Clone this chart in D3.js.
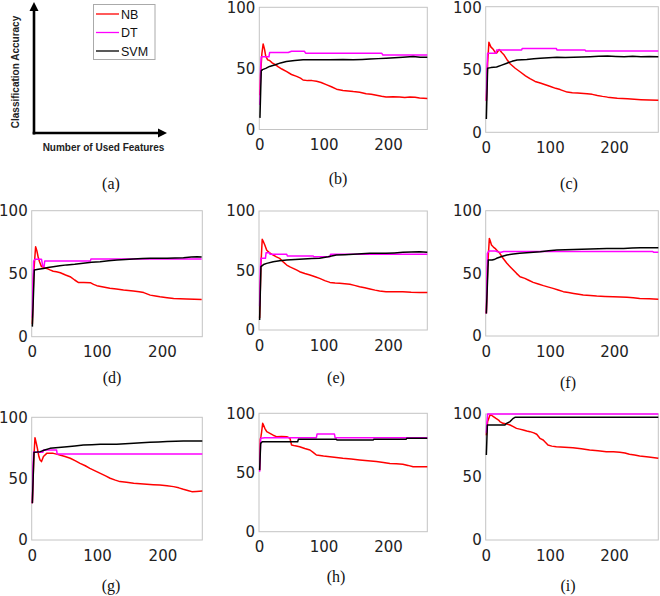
<!DOCTYPE html>
<html><head><meta charset="utf-8">
<script src="https://cdn.jsdelivr.net/npm/d3@7"></script>
<style>body{margin:0;background:#fff}svg{display:block}</style>
</head><body>
<svg id="chart" width="660" height="596"></svg>
<script>
// ---------- DATA ----------
const seriesNames = ["NB", "DT", "SVM"];
const seriesColors = ["#ff0000", "#ff00ff", "#000000"];
const panelLabels = ["(a)", "(b)", "(c)", "(d)", "(e)", "(f)", "(g)", "(h)", "(i)"];
const xTicks = [0, 100, 200];
const yTicks = [0, 50, 100];
const axisLabelX = "Number of Used Features";
const axisLabelY = "Classification Accuracy";

const b_NB = [[1,28],[2,45],[4,62],[6,70],[8,66],[10,60],[13,57],[16,56.5],[20,54.5],[25,53],[29,51.5],[35,49.5],[42,47.5],[50,45],[58,43.5],[64,42],[68,40.5],[75,40],[82,40],[89,39.4],[96,38.5],[104,36.7],[112,35],[120,33],[130,32],[138,31.5],[146,31],[156,30.5],[166,29.3],[174,28.8],[182,28],[190,27.2],[197,26.6],[208,26.8],[218,26.6],[226,26.2],[234,26.6],[242,26.4],[249,25.8],[261,25.3]];
const b_DT = [[1,20],[2,50],[3,59.5],[15,59.5],[16,63],[45,63],[50,64],[70,64],[72,62.5],[190,62.5],[192,61],[261,61]];
const b_SVM = [[1,9.5],[3,48],[5,49],[10,50],[16,51.6],[25,53],[33,54.5],[42,55.7],[55,56.5],[68,57],[80,57],[94,57],[110,57],[130,57.3],[146,57],[160,57.3],[172,57.6],[185,58],[197,58.4],[210,58.8],[223,59.2],[239,59.8],[250,59.2],[261,59.2]];

const c_NB = [[1,25],[3,55],[5,71.7],[8,68],[12,65.9],[15,63.5],[17,63],[21,65.9],[25,63.5],[28,62],[33,58],[38,54.6],[46,51],[54,48],[62,45],[69,42.7],[77,40.5],[85,39.2],[93,37.8],[101,36.5],[109,35],[116,34],[127,32],[135,31.5],[143,31.2],[158,30.7],[166,30.2],[174,29.3],[182,28.6],[190,28],[205,27.2],[221,26.7],[242,26],[255,25.7],[269,25.5]];
const c_DT = [[1,25],[2,50],[3,62.9],[16,62.9],[17,65.5],[56,65.5],[57,66.8],[110,66.8],[111,65.5],[155,65.5],[156,64.7],[269,64.7]];
const c_SVM = [[1,10.6],[3,51],[8,51.5],[17,52],[25,53.5],[33,55],[41,56.5],[49,57.5],[64,58],[75,58.5],[85,59],[98,59.3],[111,59.7],[124,59.5],[137,59.7],[150,60],[163,60.2],[176,60.5],[190,60.7],[203,60.4],[216,60.2],[229,60.5],[242,60.2],[255,60.3],[269,60.2]];

const d_NB = [[1,10],[3,50],[6,71.4],[8,68],[10,63],[12,59.5],[15,55.6],[19,54.8],[23,54.2],[28,53],[33,52],[38,51.5],[44,50.8],[52,49],[59,47.6],[66,45],[72,43],[80,43],[90,42.9],[95,41.5],[100,40.5],[110,39.5],[120,38.4],[130,37.8],[141,37],[156,36.2],[165,35.7],[172,35],[177,34],[182,33],[190,32.3],[197,31.7],[208,31],[218,30.4],[238,29.9],[250,29.7],[261,29.6]];
const d_DT = [[1,15],[2,45],[3,60],[5,61.5],[15,61.5],[17,56],[19,55.5],[20,60],[90,60],[91,61.7],[261,61.7]];
const d_SVM = [[1,8],[4,53],[10,53.5],[18,54.2],[25,55],[33,55.6],[43,56.3],[54,57],[66,57.5],[79,58.2],[92,59],[105,59.5],[118,60.2],[131,60.8],[144,61.2],[156,61.6],[170,62],[182,62.2],[195,62.2],[208,62.2],[220,62.5],[233,62.7],[245,63.2],[254,63.5],[261,63.2]];

const e_NB = [[1,10],[3,55],[5,76.2],[7,74],[9,71.4],[12,67],[16,65],[22,63],[27,61.5],[32,60.2],[38,57],[43,54.6],[48,53],[53,51.8],[58,50.5],[63,49],[71,47.5],[79,46.2],[87,44.8],[94,43.4],[102,41.5],[110,40],[118,39.5],[125,39.2],[133,38.8],[141,38.4],[148,37.5],[156,36.4],[164,35.5],[172,34.5],[180,33.5],[187,32.8],[197,32.2],[210,32.2],[223,32.2],[236,31.8],[249,31.6],[261,31.6]];
const e_DT = [[1,20],[2,50],[3,60.2],[10,60.2],[11,65],[16,65],[17,63.6],[43,63.6],[44,62.2],[84,62.2],[85,61.6],[110,61.6],[111,63.6],[261,63.6]];
const e_SVM = [[1,8.4],[3,53.2],[7,55],[12,56],[22,57.4],[32,58.2],[43,58.8],[56,59.2],[69,59.7],[82,60],[94,60.2],[107,61.5],[120,63],[133,63.3],[146,63.6],[159,64],[172,64.4],[185,64.4],[197,64.4],[210,64.8],[223,65.3],[236,65.5],[249,65.8],[261,65.3]];

const f_NB = [[1,18],[3,55],[5.7,77.9],[7,76],[9,72.6],[12,71],[14.5,70],[18,68],[22,66],[27,62],[33,58],[38,55.3],[43,52.7],[48,50],[53.5,47.3],[61,46],[67,44.5],[74,42.8],[82,41.5],[90,40.2],[98,39],[105,38],[113,36.7],[121,35.4],[129,34.7],[137,34],[145,33.3],[152,32.7],[163,32.3],[173,31.9],[186,31.6],[199,31.4],[210,31.2],[220,30.9],[230,30.5],[240,30],[255,29.7],[269,29.3]];
const f_DT = [[1,18],[2.6,66],[5,67.8],[15,67.8],[20,67],[24,66.8],[28,67.5],[260,67.5],[262,66.8],[269,66.8]];
const f_SVM = [[1,18],[4,60.6],[10,60.6],[13,61],[17,62],[25,63.5],[33,64.6],[43,65.5],[53,66],[69,66.7],[85,67.3],[98,68],[111,68.6],[124,68.8],[137,69.1],[150,69.2],[163,69.4],[176,69.6],[189,69.9],[202,69.9],[215,69.9],[228,70.2],[241,70.5],[255,70.5],[269,70.5]];

const g_NB = [[1,30],[3,64],[5,83.4],[7,79],[8.7,74.7],[11,68],[12.8,65.2],[15,63.9],[18,68],[23,70.6],[28,70.6],[33,70.6],[38,70],[43,69.3],[51,68],[59,66.6],[67,64.5],[74,62.5],[82,60.5],[89,58.4],[97,56.3],[105,54.3],[113,52.2],[120,50.3],[128,48.8],[135,47.6],[145,47],[156,46.2],[166,45.8],[176,45.4],[186,45.1],[196,44.8],[207,44.2],[217,43.5],[225,42.5],[232,41.3],[240,40.2],[245,39.4],[252,39.6],[261,39.9]];
const g_DT = [[1,30],[2,60],[3,72],[4,71.5],[17,71.5],[18,73.4],[38,73.4],[39,70.1],[261,70.1]];
const g_SVM = [[1,29.9],[3.5,71.5],[8,71.7],[13,72],[20,73.3],[28,74.7],[41,75.3],[54,76],[66,76.7],[79,77.4],[92,77.7],[105,78],[118,78],[130,78],[143,78.4],[156,78.8],[168,79.2],[181,79.6],[194,79.9],[207,80.2],[220,80.5],[232,80.7],[246,80.7],[261,80.7]];

const h_NB = [[1,52],[2,78],[3,80.3],[4,84],[5.7,91.5],[7,90],[9,87.3],[12,84.5],[17,83],[22,81.5],[27,80.3],[35,80.5],[43,80.3],[48,78.9],[50.5,73.2],[56,72.5],[63,71.8],[71,70.3],[79,69],[84,67],[89,64.8],[100,64],[110,63.4],[120,62.7],[130,62],[143,61.3],[156,60.6],[169,59.9],[182,59.2],[193,58.5],[203,57.7],[213,57.3],[223,56.9],[231,56],[239,54.9],[250,54.9],[261,54.9]];
const h_DT = [[1,50.7],[2.6,78.9],[9,79.4],[89,79.4],[90,82.5],[117,82.5],[118,79.4],[261,79.4]];
const h_SVM = [[1,52],[2.6,74.6],[5,76],[60,76],[61,78],[120,78],[121,77.5],[177,77.5],[178,78],[228,78],[229,78.9],[261,78.9]];

const i_NB = [[1,83],[3,94],[6.7,99.2],[9,99],[12,97.9],[16,96.5],[20,95.2],[22,94],[27,92.6],[33,92],[38,91.3],[43,90],[48,88.6],[53,88],[58.5,87.3],[64,86.5],[69,86],[75,85],[79.5,83.9],[84.5,80.7],[89.6,79.4],[93,77.5],[97,75.4],[103,74.5],[110,74],[123,73.7],[136,73.3],[149,72.5],[162,71.4],[175,70.8],[188,70.1],[199,70],[209,69.6],[217,69],[224,68],[232,67.4],[240,66.7],[254,65.8],[269,64.8]];
const i_DT = [[1,85],[2,94],[3,100],[269,100]];
const i_SVM = [[1,67.5],[2.6,91.3],[30,91.3],[32.6,92.6],[38,94],[43,96.6],[45.6,97.4],[269,97.4]];

const panelData = {
  b: [b_NB, b_DT, b_SVM], c: [c_NB, c_DT, c_SVM],
  d: [d_NB, d_DT, d_SVM], e: [e_NB, e_DT, e_SVM], f: [f_NB, f_DT, f_SVM],
  g: [g_NB, g_DT, g_SVM], h: [h_NB, h_DT, h_SVM], i: [i_NB, i_DT, i_SVM]
};

// ---------- LAYOUT ----------
const layout = [
  {id:"b", left:259.3, right:427.3, top:7.3,   bottom:129.5, xMax:261, lx:338, ly:178.5},
  {id:"c", left:485.7, right:658.3, top:6.7,   bottom:132.3, xMax:269, lx:569, ly:183},
  {id:"d", left:31.7,  right:202.3, top:210.7, bottom:336.7, xMax:262, lx:112, ly:377},
  {id:"e", left:259,   right:427.3, top:211,   bottom:330,   xMax:261, lx:336, ly:377},
  {id:"f", left:485.7, right:658.3, top:210.7, bottom:336,   xMax:269, lx:568, ly:382},
  {id:"g", left:31.7,  right:202.3, top:417.3, bottom:540,   xMax:261, lx:111, ly:585},
  {id:"h", left:259,   right:427.3, top:413.3, bottom:531.7, xMax:261, lx:336, ly:576},
  {id:"i", left:485.7, right:658.3, top:414,   bottom:540,   xMax:269, lx:568, ly:585}
];

const svg = d3.select("#chart");
const tickFont = "'DejaVu Sans', sans-serif";
const serif = "'Liberation Serif', 'Times New Roman', serif";

// ---------- PANEL (a) ----------
const ga = svg.append("g");
const aY = d3.scaleLinear().domain([0, 1]).range([133, 2]);
const aX = d3.scaleLinear().domain([0, 1]).range([34, 167]);
ga.append("line").attr("x1", aX(0)).attr("x2", aX(0)).attr("y1", aY(0) + 1.5).attr("y2", aY(1) + 8)
  .attr("stroke", "#000").attr("stroke-width", 2.6);
ga.append("path").attr("d", `M${aX(0)-4.5},${aY(1)+9} L${aX(0)},${aY(1)} L${aX(0)+4.5},${aY(1)+9} Z`).attr("fill", "#000");
ga.append("line").attr("x1", aX(0) - 1.3).attr("x2", aX(1) - 8).attr("y1", aY(0)).attr("y2", aY(0))
  .attr("stroke", "#000").attr("stroke-width", 2.6);
ga.append("path").attr("d", `M${aX(1)-9},${aY(0)-4.5} L${aX(1)},${aY(0)} L${aX(1)-9},${aY(0)+4.5} Z`).attr("fill", "#000");
ga.append("text").attr("transform", "translate(19,72) rotate(-90)").attr("text-anchor", "middle")
  .attr("font-family", "Arial, 'Liberation Sans', sans-serif").attr("font-weight", "bold").attr("font-size", 10)
  .attr("fill", "#222").text(axisLabelY);
ga.append("text").attr("x", 103.5).attr("y", 151).attr("text-anchor", "middle")
  .attr("font-family", "Arial, 'Liberation Sans', sans-serif").attr("font-weight", "bold").attr("font-size", 10)
  .attr("fill", "#222").text(axisLabelX);
// legend
ga.append("rect").attr("x", 93.5).attr("y", 4.5).attr("width", 61.5).attr("height", 55)
  .attr("fill", "#fff").attr("stroke", "#aaa").attr("stroke-width", 1);
const legY = d3.scalePoint().domain(seriesNames).range([14, 51]);
seriesNames.forEach((n, k) => {
  ga.append("line").attr("x1", 96).attr("x2", 119).attr("y1", legY(n)).attr("y2", legY(n))
    .attr("stroke", seriesColors[k]).attr("stroke-width", 1.3);
  ga.append("text").attr("x", 121).attr("y", legY(n) + 4.5)
    .attr("font-family", "Arial, 'Liberation Sans', sans-serif").attr("font-size", 12.5).attr("fill", "#111").text(n);
});
ga.append("text").attr("x", 111).attr("y", 183).attr("text-anchor", "middle").attr("dominant-baseline", "central")
  .attr("font-family", serif).attr("font-size", 16).attr("fill", "#111").text(panelLabels[0]);

// ---------- PANELS (b)-(i) ----------
layout.forEach((p, idx) => {
  const g = svg.append("g");
  const x = d3.scaleLinear().domain([0, p.xMax]).range([p.left, p.right]);
  const y = d3.scaleLinear().domain([0, 100]).range([p.bottom, p.top]);
  g.append("rect").attr("x", p.left).attr("y", p.top).attr("width", p.right - p.left).attr("height", p.bottom - p.top)
    .attr("fill", "none").attr("stroke", "#c4c4c4").attr("stroke-width", 1);
  const line = d3.line().x(d => x(d[0])).y(d => y(d[1]));
  [0, 1, 2].forEach(k => {
    g.append("path").datum(panelData[p.id][k]).attr("d", line)
      .attr("fill", "none").attr("stroke", seriesColors[k]).attr("stroke-width", 1.5)
      .attr("stroke-linejoin", "round");
  });
  const xa = g.append("g").attr("transform", `translate(0,${p.bottom})`)
    .call(d3.axisBottom(x).tickValues(xTicks).tickSize(0).tickPadding(10).tickFormat(d3.format("d")));
  xa.select(".domain").remove();
  xa.selectAll("text").attr("font-family", tickFont).attr("font-size", 15).attr("fill", "#222");
  const ya = g.append("g").attr("transform", `translate(${p.left},0)`)
    .call(d3.axisLeft(y).tickValues(yTicks).tickSize(0).tickPadding(4).tickFormat(d3.format("d")));
  ya.select(".domain").remove();
  ya.selectAll("text").attr("font-family", tickFont).attr("font-size", 15).attr("fill", "#222");
  // keep the top tick label fully inside the picture
  ya.selectAll(".tick").filter(d => d === 100 && p.top < 9).attr("transform", `translate(0,${Math.max(y(100), 8.5)})`);
  g.append("text").attr("x", p.lx).attr("y", p.ly).attr("text-anchor", "middle").attr("dominant-baseline", "central")
    .attr("font-family", serif).attr("font-size", 16).attr("fill", "#111").text(panelLabels[idx + 1]);
});
</script>
</body></html>
